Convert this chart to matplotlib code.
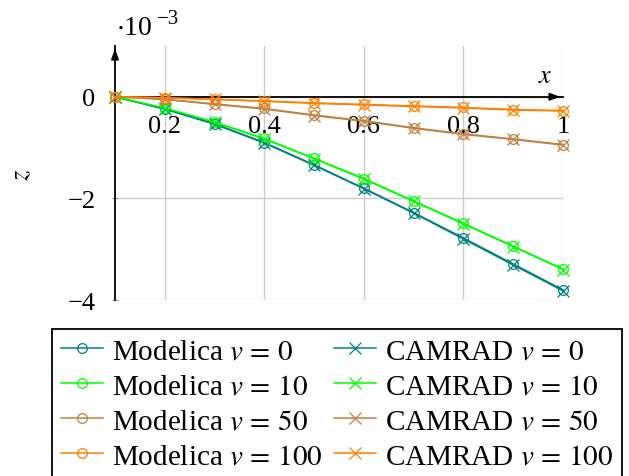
import matplotlib
matplotlib.use("Agg")
import matplotlib.pyplot as plt

plt.rcParams['font.family'] = ['Liberation Serif', 'DejaVu Serif']
plt.rcParams['mathtext.fontset'] = 'stix'

x = [0.1, 0.2, 0.3, 0.4, 0.5, 0.6, 0.7, 0.8, 0.9, 1.0]
speeds = ["0", "10", "50", "100"]
modelica_v0 = [0, -0.24, -0.53, -0.90, -1.34, -1.80, -2.28, -2.78, -3.29, -3.80]
modelica_v10 = [0, -0.23, -0.50, -0.82, -1.21, -1.61, -2.05, -2.49, -2.94, -3.39]
modelica_v50 = [0, -0.05, -0.14, -0.23, -0.36, -0.47, -0.61, -0.73, -0.83, -0.94]
modelica_v100 = [0, -0.02, -0.05, -0.08, -0.12, -0.15, -0.18, -0.21, -0.25, -0.27]
camrad_v0 = [0, -0.24, -0.54, -0.91, -1.35, -1.81, -2.29, -2.80, -3.31, -3.82]
camrad_v10 = [0, -0.22, -0.50, -0.83, -1.22, -1.62, -2.06, -2.50, -2.95, -3.40]
camrad_v50 = [0, -0.05, -0.15, -0.24, -0.37, -0.48, -0.62, -0.74, -0.84, -0.95]
camrad_v100 = [0, -0.02, -0.05, -0.09, -0.13, -0.16, -0.19, -0.22, -0.26, -0.28]
colors = ['#008080', '#00ff00', '#bf8040', '#ff8000']
xticks = [0.2, 0.4, 0.6, 0.8, 1.0]
xticklabels = ["0.2", "0.4", "0.6", "0.8", "1"]
yticks = [-4, -2, 0]
yticklabels = ["\u22124", "\u22122", "0"]

fig = plt.figure(figsize=(6.29, 4.77), dpi=100)
ax = fig.add_axes([115/629, 1-301/477, 448/629, 254/477])

fs = 19
lfs = 21
modelica = [modelica_v0, modelica_v10, modelica_v50, modelica_v100]
camrad = [camrad_v0, camrad_v10, camrad_v50, camrad_v100]
handles = []
for s, ys, c in zip(speeds, modelica, colors):
    h, = ax.plot(x, ys, color=c, lw=1.1, marker='o', ms=7, mfc='none', mec=c, mew=0.9,
                 label=f"Modelica $v\\,=\\,{s}$", zorder=4, clip_on=False)
    handles.append(h)
for s, ys, c in zip(speeds, camrad, colors):
    h, = ax.plot(x, ys, color=c, lw=1.1, marker='x', ms=9, mec=c, mew=0.9,
                 label=f"CAMRAD $v\\,=\\,{s}$", zorder=5, clip_on=False)
    handles.append(h)

ax.set_xlim(0.1, 1.0)
ax.set_ylim(-4, 1)
ax.set_xticks(xticks)
ax.set_xticklabels(xticklabels)
ax.set_yticks(yticks)
ax.set_yticklabels(yticklabels)
ax.grid(True, color='#cccccc', lw=1.0, zorder=0)
ax.set_axisbelow(True)

for sp in ['top', 'right']:
    ax.spines[sp].set_visible(False)
ax.spines['bottom'].set_position(('data', 0))
ax.spines['left'].set_position(('data', 0.1))
ax.spines['bottom'].set_linewidth(1.3)
ax.spines['left'].set_linewidth(1.3)
ax.spines['bottom'].set_zorder(3)
ax.spines['left'].set_zorder(3)
ax.tick_params(axis='x', length=0, pad=13, labelsize=fs)
ax.tick_params(axis='y', length=4, direction='inout', color='#999999', pad=12, labelsize=fs)

ax.annotate('', xy=(1.0, 0), xytext=(0.97, 0),
            arrowprops=dict(arrowstyle='-|>,head_length=0.6,head_width=0.22', color='k', lw=1.3),
            annotation_clip=False, zorder=3)
ax.annotate('', xy=(0.1, 1.0), xytext=(0.1, 0.85),
            arrowprops=dict(arrowstyle='-|>,head_length=0.6,head_width=0.22', color='k', lw=1.3),
            annotation_clip=False, zorder=3)

fig.text(545/629, 1-77/477, "$x$", fontsize=fs, ha='center', va='center')
fig.text(22/629, 1-175/477, "$z$", fontsize=fs, ha='center', va='center', rotation=90)
fig.text(116/629, 1-35/477, r"$\cdot$10", fontsize=20, ha='left', va='baseline')
fig.text(157/629, 1-24/477, "\u22123", fontsize=15, ha='left', va='baseline')

leg = fig.legend(handles=handles, ncol=2, loc='upper left', bbox_to_anchor=(52/629, 1-330/477),
                 fontsize=lfs, frameon=True, fancybox=False, edgecolor='black', framealpha=1,
                 handlelength=1.45, handletextpad=0.3, columnspacing=0.4, labelspacing=0.3,
                 borderpad=0.3, borderaxespad=0)
leg.get_frame().set_linewidth(1.3)

fig.savefig("out.png", dpi=100)
